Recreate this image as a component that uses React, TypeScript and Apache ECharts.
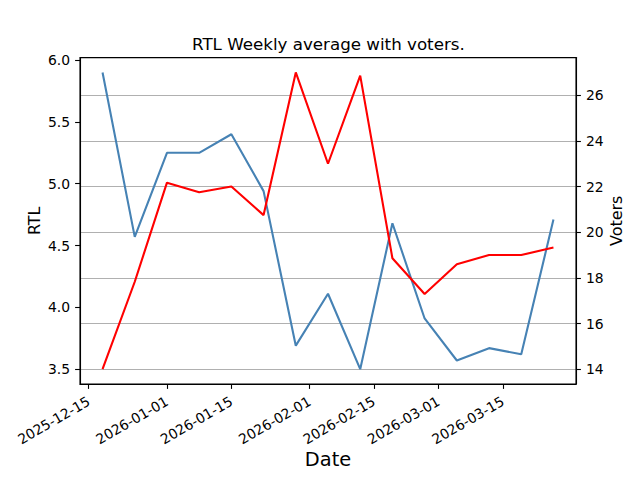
import React, { useEffect, useRef } from "react";
import * as echarts from "echarts";

const dates = [
  "2025-12-18", "2025-12-25", "2026-01-01", "2026-01-08", "2026-01-15",
  "2026-01-22", "2026-01-29", "2026-02-05", "2026-02-12", "2026-02-19",
  "2026-02-26", "2026-03-05", "2026-03-12", "2026-03-19", "2026-03-26",
];
const rtl = [5.9, 4.57, 5.25, 5.25, 5.4, 4.94, 3.69, 4.11, 3.5, 4.68, 3.91, 3.57, 3.67, 3.62, 4.71];
const voters = [14, 17.83, 22.17, 21.75, 22, 20.75, 27, 23, 26.86, 18.86, 17.29, 18.6, 19, 19, 19.33];
const dateTicks = ["2025-12-15", "2026-01-01", "2026-01-15", "2026-02-01", "2026-02-15", "2026-03-01", "2026-03-15"];
const rtlTicks = [3.5, 4.0, 4.5, 5.0, 5.5, 6.0];
const voterTicks = [14, 16, 18, 20, 22, 24, 26];

const FONT = "DejaVu Sans";

const ts = (s: string) => {
  const [y, m, d] = s.split("-").map(Number);
  return new Date(y, m - 1, d).getTime();
};
const pad = (n: number) => (n < 10 ? "0" + n : "" + n);
const fmtDate = (v: number) => {
  const d = new Date(v);
  return `${d.getFullYear()}-${pad(d.getMonth() + 1)}-${pad(d.getDate())}`;
};
const margin = (arr: number[]) => {
  const lo = Math.min(...arr);
  const hi = Math.max(...arr);
  const m = (hi - lo) * 0.05;
  return [lo - m, hi + m];
};

export default function App() {
  const ref = useRef<HTMLDivElement>(null);
  useEffect(() => {
    if (!ref.current) return;
    const chart = echarts.init(ref.current, undefined, { renderer: "svg" });
    const xs = dates.map(ts);
    const [xMin, xMax] = margin(xs);
    const [lMin, lMax] = margin(rtl);
    const [rMin, rMax] = margin(voters);
    const gridL = 80, gridR = 64, gridT = 57.6, gridB = 96;
    const axisLine = { show: true, lineStyle: { color: "#000", width: 1.1 } };
    const axisTick = (vals: number[]) => ({
      show: true,
      inside: false,
      length: 4.9,
      lineStyle: { color: "#000", width: 1.1 },
      customValues: vals,
    });
    chart.setOption({
      animation: false,
      backgroundColor: "#fff",
      title: {
        text: "RTL Weekly average with voters.",
        left: 192,
        top: 35,
        padding: 0,
        textStyle: { fontFamily: FONT, fontSize: 16.7, fontWeight: "normal", color: "#000" },
      },
      grid: { left: gridL, right: gridR, top: gridT, bottom: gridB, containLabel: false },
      xAxis: {
        type: "value",
        min: xMin,
        max: xMax,
        name: "Date",
        nameLocation: "middle",
        nameGap: 66,
        nameMoveOverlap: false,
        nameTextStyle: { fontFamily: FONT, fontSize: 19.4, color: "#000" },
        axisLine,
        axisTick: axisTick(dateTicks.map(ts)),
        axisLabel: {
          customValues: dateTicks.map(ts),
          formatter: (v: number) => fmtDate(v),
          rotate: 30,
          margin: 16,
          fontFamily: FONT,
          fontSize: 13.9,
          color: "#000",
        },
        splitLine: { show: false },
      },
      yAxis: [
        {
          type: "value",
          position: "left",
          min: lMin,
          max: lMax,
          name: "RTL",
          nameLocation: "middle",
          nameGap: 38,
          nameMoveOverlap: false,
          nameTextStyle: { fontFamily: FONT, fontSize: 16, color: "#000" },
          axisLine,
          axisTick: axisTick(rtlTicks),
          axisLabel: {
            customValues: rtlTicks,
            formatter: (v: number) => v.toFixed(1),
            margin: 10,
            fontFamily: FONT,
            fontSize: 13.9,
            color: "#000",
          },
          splitLine: { show: false },
        },
        {
          type: "value",
          position: "right",
          min: rMin,
          max: rMax,
          name: "Voters",
          nameLocation: "middle",
          nameGap: 32,
          nameMoveOverlap: false,
          nameTextStyle: { fontFamily: FONT, fontSize: 16, color: "#000" },
          axisLine,
          axisTick: axisTick(voterTicks),
          axisLabel: {
            customValues: voterTicks,
            formatter: (v: number) => String(v),
            margin: 10,
            fontFamily: FONT,
            fontSize: 13.9,
            color: "#000",
          },
          splitLine: { show: true, lineStyle: { color: "#b0b0b0", width: 1.1 } },
        },
      ],
      graphic: [
        {
          type: "rect",
          shape: { x: gridL, y: gridT, width: 640 - gridL - gridR, height: 480 - gridT - gridB },
          style: { fill: "none", stroke: "#000", lineWidth: 1.1 },
          silent: true,
          z: 100,
        },
      ],
      series: [
        {
          name: "RTL",
          type: "line",
          yAxisIndex: 0,
          data: xs.map((x, i) => [x, rtl[i]]),
          showSymbol: false,
          lineStyle: { color: "#4682B4", width: 2.1 },
          itemStyle: { color: "#4682B4" },
        },
        {
          name: "Voters",
          type: "line",
          yAxisIndex: 1,
          data: xs.map((x, i) => [x, voters[i]]),
          showSymbol: false,
          lineStyle: { color: "#ff0000", width: 2.1 },
          itemStyle: { color: "#ff0000" },
        },
      ],
    });
    return () => chart.dispose();
  }, []);
  return (
    <div
      ref={ref}
      style={{ position: "absolute", left: 0, top: 0, width: 640, height: 480 }}
    />
  );
}
